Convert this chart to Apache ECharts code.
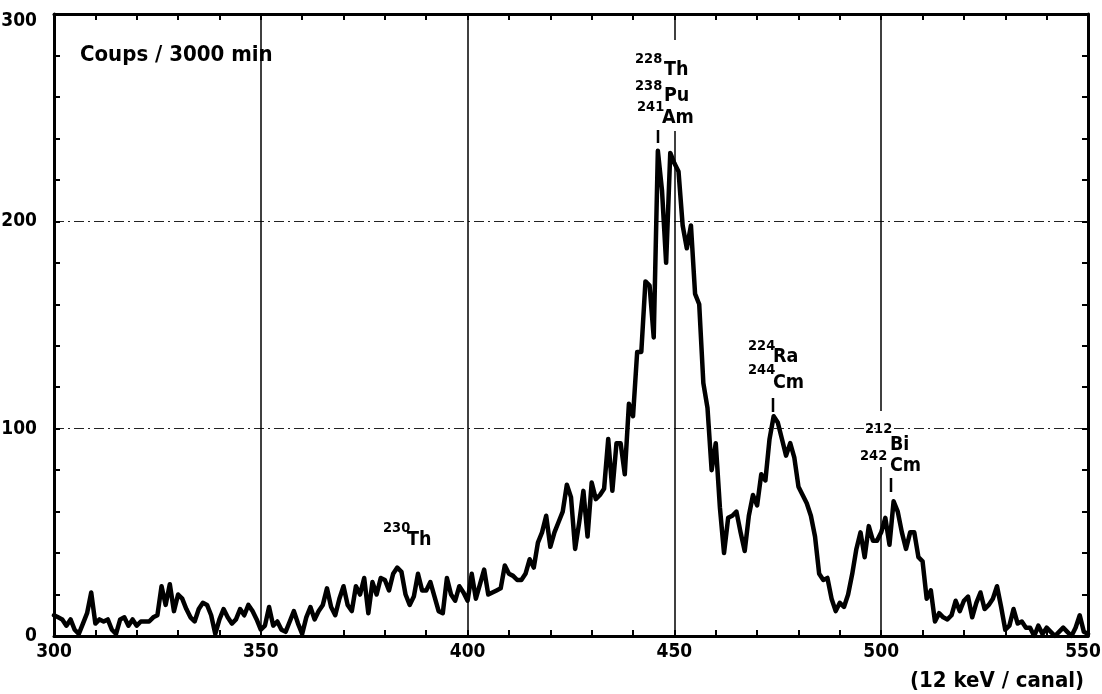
<!DOCTYPE html>
<html><head><meta charset="utf-8">
<script src="https://cdn.jsdelivr.net/npm/echarts@6/dist/echarts.min.js"></script>
<style>html,body{margin:0;padding:0;background:#fff}#c{width:1102px;height:694px}</style>
</head><body><div id="c"></div>
<script>
// Channel numbers (12 keV / canal) start at 300, one count value per channel
const channelStart = 300;
const counts = [
  10, 9, 8, 5, 8, 3, 1, 6, 11, 21,        // 300-309
  6, 8, 7, 8, 3, 1, 8, 9, 5, 8,           // 310-319
  5, 7, 7, 7, 9, 10, 24, 15, 25, 12,      // 320-329
  20, 18, 13, 9, 7, 13, 16, 15, 10, 1,    // 330-339
  8, 13, 9, 6, 8, 13, 10, 15, 12, 8,      // 340-349
  3, 5, 14, 5, 7, 3, 2, 7, 12, 6,         // 350-359
  1, 9, 14, 8, 12, 15, 23, 14, 10, 18,    // 360-369
  24, 15, 12, 24, 20, 28, 11, 26, 20, 28, // 370-379
  27, 22, 30, 33, 31, 20, 15, 19, 30, 22, // 380-389
  22, 26, 19, 12, 11, 28, 20, 17, 24, 21, // 390-399
  17, 30, 18, 25, 32, 20, 21, 22, 23, 34, // 400-409
  30, 29, 27, 27, 30, 37, 33, 45, 50, 58, // 410-419
  43, 50, 55, 60, 73, 67, 42, 55, 70, 48, // 420-429
  74, 66, 68, 71, 95, 70, 93, 93, 78, 112,// 430-439
  106, 137, 137, 171, 169, 144, 234, 215, 180, 233, // 440-449
  228, 224, 198, 187, 198, 165, 160, 122, 110, 80,  // 450-459
  93, 62, 40, 57, 58, 60, 50, 41, 58, 68, // 460-469
  63, 78, 75, 95, 106, 103, 95, 87, 93, 86, // 470-479
  72, 68, 64, 58, 48, 30, 27, 28, 18, 12, // 480-489
  16, 14, 20, 30, 42, 50, 38, 53, 46, 46, // 490-499
  50, 57, 44, 65, 60, 50, 42, 50, 50, 38, // 500-509
  36, 18, 22, 7, 11, 9, 8, 10, 17, 12,    // 510-519
  17, 19, 9, 16, 21, 13, 15, 18, 24, 14,  // 520-529
  3, 5, 13, 6, 7, 4, 4, 0, 5, 1,          // 530-539
  4, 2, 0, 2, 4, 2, 0, 4, 10, 2,          // 540-549
  1                                        // 550
];
const xTickLabels = [300, 350, 400, 450, 500, 550];
const yTickLabels = [0, 100, 200, 300];
const yLabel = 'Coups / 3000 min';
const xLabel = '(12 keV / canal)';
const peakLabels = [
  { nums: ['228', '238', '241'], syms: ['Th', 'Pu', 'Am'] },
  { nums: ['224', '244'], syms: ['Ra', 'Cm'] },
  { nums: ['212', '242'], syms: ['Bi', 'Cm'] },
  { nums: ['230'], syms: ['Th'] }
];

const data = counts.map((v, i) => [channelStart + i, v]);
const FONT = "'Liberation Sans Narrow','DejaVu Sans Condensed',sans-serif";

const chart = echarts.init(document.getElementById('c'), null, { renderer: 'canvas' });

const lastX = xTickLabels[xTickLabels.length - 1];
function baseX(pos, showLabels) {
  return {
    type: 'value', position: pos,
    min: xTickLabels[0], max: lastX, interval: 50,
    axisLine: { show: true, onZero: false, lineStyle: { color: '#000', width: 3 } },
    axisTick: { show: true, inside: true, length: 6, lineStyle: { color: '#000', width: 2 } },
    minorTick: { show: true, splitNumber: 5, length: 6, lineStyle: { color: '#000', width: 2 } },
    axisLabel: { show: showLabels, color: '#000', fontFamily: FONT, fontWeight: 'bold', fontSize: 19, margin: 7,
      formatter: v => !xTickLabels.includes(v) ? '' : (v === lastX ? '{end|' + v + '}' : String(v)),
      rich: { end: { fontFamily: FONT, fontWeight: 'bold', fontSize: 19, color: '#000', padding: [0, 10, 0, 0] } } },
    splitLine: { show: showLabels, lineStyle: { color: '#000', width: 1.5 } }
  };
}
function baseY(pos, showLabels) {
  return {
    type: 'value', position: pos,
    min: yTickLabels[0], max: yTickLabels[yTickLabels.length - 1], interval: 100,
    axisLine: { show: true, onZero: false, lineStyle: { color: '#000', width: 3 } },
    axisTick: { show: true, inside: true, length: 6, lineStyle: { color: '#000', width: 2 } },
    minorTick: { show: true, splitNumber: 5, length: 6, lineStyle: { color: '#000', width: 2 } },
    axisLabel: { show: showLabels, color: '#000', fontFamily: FONT, fontWeight: 'bold', fontSize: 19, margin: 17,
      formatter: v => !yTickLabels.includes(v) ? '' : (v === yTickLabels[yTickLabels.length - 1] ? '{top|' + v + '}' : String(v)),
      rich: { top: { fontFamily: FONT, fontWeight: 'bold', fontSize: 19, color: '#000', padding: [14, 0, 0, 0] } } },
    splitLine: { show: showLabels, lineStyle: { color: '#222', width: 1, type: [10, 4, 2, 4] } }
  };
}

const txt = (text, x, y, size, align) => ({
  type: 'text', x: x, y: y, z: 20,
  style: { text: text, fill: '#000', font: `bold ${size}px ${FONT}`, textAlign: align || 'left', textVerticalAlign: 'middle' }
});
const tick = (x, y1, y2) => ({ type: 'line', z: 20, shape: { x1: x, y1: y1, x2: x, y2: y2 }, style: { stroke: '#000', lineWidth: 2.5 } });
const blank = (x, y, w, h) => ({ type: 'rect', z: 15, shape: { x: x, y: y, width: w, height: h }, style: { fill: '#fff' } });

const pTh = peakLabels[0], pRa = peakLabels[1], pBi = peakLabels[2], pTh230 = peakLabels[3];
const NS = 14.5, SS = 19.5;

const graphics = [
  blank(666, 40, 12, 91),
  blank(876, 411, 10, 56),
  txt(yLabel, 80, 55, 22),
  txt(pTh.nums[0], 635, 59, NS), txt(pTh.syms[0], 664, 70, SS),
  txt(pTh.nums[1], 635, 86, NS), txt(pTh.syms[1], 664, 96, SS),
  txt(pTh.nums[2], 637, 107, NS), txt(pTh.syms[2], 662, 118, SS),
  tick(658, 130, 143),
  txt(pRa.nums[0], 748, 346, NS), txt(pRa.syms[0], 773, 357, SS),
  txt(pRa.nums[1], 748, 370, NS), txt(pRa.syms[1], 773, 383, SS),
  tick(773, 398, 412),
  txt(pBi.nums[0], 865, 429, NS), txt(pBi.syms[0], 890, 445, SS),
  txt(pBi.nums[1], 860, 456, NS), txt(pBi.syms[1], 890, 466, SS),
  tick(891, 478, 492),
  txt(pTh230.nums[0], 383, 528, NS), txt(pTh230.syms[0], 407, 540, SS),
  txt(xLabel, 910, 681, 22)
];

chart.setOption({
  animation: false,
  backgroundColor: '#fff',
  grid: { left: 54, right: 14, top: 14, bottom: 58, show: false, containLabel: false, outerBoundsMode: 'none' },
  xAxis: [baseX('bottom', true), baseX('top', false)],
  yAxis: [baseY('left', true), baseY('right', false)],
  series: [{
    type: 'line', xAxisIndex: 0, yAxisIndex: 0, data: data,
    showSymbol: false, symbol: 'none', z: 5,
    lineStyle: { color: '#000', width: 4.5, join: 'round', cap: 'round' }
  }],
  graphic: graphics
});
</script></body></html>
